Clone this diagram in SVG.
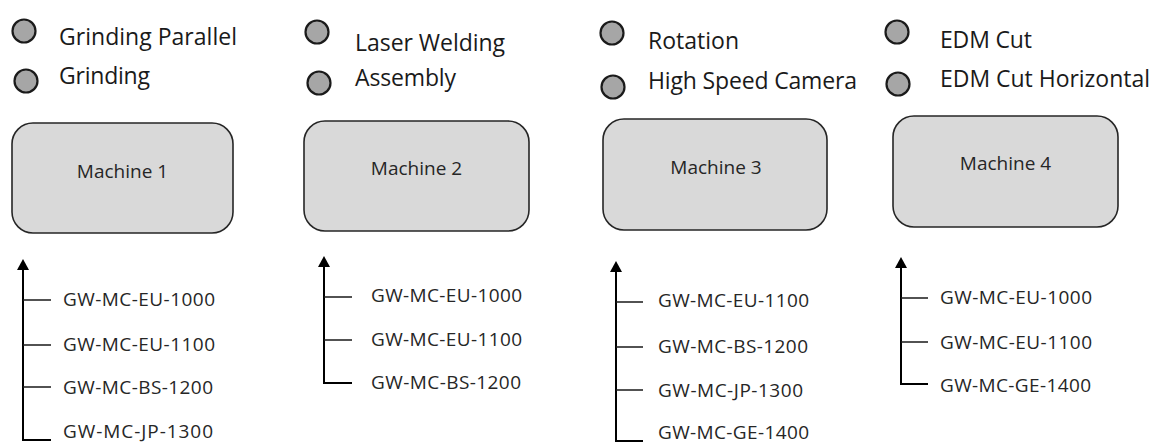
<svg xmlns="http://www.w3.org/2000/svg" width="1166" height="443" viewBox="0 0 1166 443">
  <style>
    .bg { fill: #ffffff; }
    .dot { fill: #a6a6a6; stroke: #1a1a1a; stroke-width: 2.2; }
    .legend { font-family: "Open Sans", "Liberation Sans", sans-serif; font-size: 23px; fill: #1a1a1a; }
    .box { fill: #d9d9d9; stroke: #262626; stroke-width: 1.6; }
    .boxlabel { font-family: "Open Sans", "Liberation Sans", sans-serif; font-size: 19px; fill: #262626; text-anchor: middle; }
    .model { font-family: "Open Sans", "Liberation Sans", sans-serif; font-size: 19px; fill: #262626; }
    .stem { fill: none; stroke: #000000; stroke-width: 2; }
    .branch { fill: none; stroke: #1a1a1a; stroke-width: 1.3; }
  </style>
  <defs>
    <marker id="arrowUp" viewBox="0 0 11 12" refX="0" refY="6" markerWidth="11" markerHeight="12" markerUnits="userSpaceOnUse" orient="auto">
      <path d="M0,0 L11,6 L0,12 z" fill="#000000"/>
    </marker>
  </defs>

  <rect class="bg" x="0" y="0" width="1166" height="443"/>

  <!-- Process legends -->
  <g id="legend-1">
    <circle class="dot" cx="24" cy="31" r="11.5"/>
    <text class="legend" x="59" y="45" textLength="178" lengthAdjust="spacing">Grinding Parallel</text>
    <circle class="dot" cx="26" cy="81" r="11.5"/>
    <text class="legend" x="59" y="84" textLength="91" lengthAdjust="spacing">Grinding</text>
  </g>
  <g id="legend-2">
    <circle class="dot" cx="317" cy="32" r="11.5"/>
    <text class="legend" x="355" y="51" textLength="150" lengthAdjust="spacing">Laser Welding</text>
    <circle class="dot" cx="319" cy="83" r="11.5"/>
    <text class="legend" x="355" y="86" textLength="101" lengthAdjust="spacing">Assembly</text>
  </g>
  <g id="legend-3">
    <circle class="dot" cx="612" cy="33" r="11.5"/>
    <text class="legend" x="648" y="49" textLength="91" lengthAdjust="spacing">Rotation</text>
    <circle class="dot" cx="613" cy="87" r="11.5"/>
    <text class="legend" x="648" y="89" textLength="209" lengthAdjust="spacing">High Speed Camera</text>
  </g>
  <g id="legend-4">
    <circle class="dot" cx="897" cy="32" r="11.5"/>
    <text class="legend" x="940" y="48" textLength="92" lengthAdjust="spacing">EDM Cut</text>
    <circle class="dot" cx="898" cy="84" r="11.5"/>
    <text class="legend" x="940" y="87" textLength="210" lengthAdjust="spacing">EDM Cut Horizontal</text>
  </g>

  <!-- Machines -->
  <g id="machine-1">
    <rect class="box" x="12" y="123" width="221" height="110" rx="21" ry="21"/>
    <text class="boxlabel" x="122.5" y="178">Machine 1</text>
  </g>
  <g id="machine-2">
    <rect class="box" x="304" y="121" width="225" height="110" rx="21" ry="21"/>
    <text class="boxlabel" x="416.5" y="175">Machine 2</text>
  </g>
  <g id="machine-3">
    <rect class="box" x="603" y="119" width="224" height="111" rx="21" ry="21"/>
    <text class="boxlabel" x="716" y="174">Machine 3</text>
  </g>
  <g id="machine-4">
    <rect class="box" x="893" y="116" width="225" height="111" rx="21" ry="21"/>
    <text class="boxlabel" x="1005.5" y="170">Machine 4</text>
  </g>

  <!-- Model lists -->
  <g id="models-1">
    <text class="model" x="63" y="306" textLength="152" lengthAdjust="spacing">GW-MC-EU-1000</text>
    <text class="model" x="63" y="351" textLength="152" lengthAdjust="spacing">GW-MC-EU-1100</text>
    <text class="model" x="63" y="394" textLength="150" lengthAdjust="spacing">GW-MC-BS-1200</text>
    <text class="model" x="63" y="438" textLength="150" lengthAdjust="spacing">GW-MC-JP-1300</text>
  </g>
  <g id="models-2">
    <text class="model" x="371" y="302" textLength="151" lengthAdjust="spacing">GW-MC-EU-1000</text>
    <text class="model" x="371" y="346" textLength="151" lengthAdjust="spacing">GW-MC-EU-1100</text>
    <text class="model" x="371" y="389" textLength="150" lengthAdjust="spacing">GW-MC-BS-1200</text>
  </g>
  <g id="models-3">
    <text class="model" x="658" y="307" textLength="151" lengthAdjust="spacing">GW-MC-EU-1100</text>
    <text class="model" x="658" y="353" textLength="150" lengthAdjust="spacing">GW-MC-BS-1200</text>
    <text class="model" x="658" y="397" textLength="145" lengthAdjust="spacing">GW-MC-JP-1300</text>
    <text class="model" x="658" y="439" textLength="151" lengthAdjust="spacing">GW-MC-GE-1400</text>
  </g>
  <g id="models-4">
    <text class="model" x="940" y="304" textLength="152" lengthAdjust="spacing">GW-MC-EU-1000</text>
    <text class="model" x="940" y="349" textLength="152" lengthAdjust="spacing">GW-MC-EU-1100</text>
    <text class="model" x="940" y="392" textLength="151" lengthAdjust="spacing">GW-MC-GE-1400</text>
  </g>

  <!-- Connectors: upward stems with side branches -->
  <g id="connectors">
    <path class="stem" d="M51,440 H23 V270" marker-end="url(#arrowUp)"/>
    <path class="branch" d="M23,300 H51 M23,345 H51 M23,387 H51"/>

    <path class="stem" d="M352,383 H324 V267" marker-end="url(#arrowUp)"/>
    <path class="branch" d="M324,297 H352 M324,340 H352"/>

    <path class="stem" d="M643,441 H616 V272" marker-end="url(#arrowUp)"/>
    <path class="branch" d="M616,302 H643 M616,347 H643 M616,390 H643"/>

    <path class="stem" d="M928,384 H901 V268" marker-end="url(#arrowUp)"/>
    <path class="branch" d="M901,298 H928 M901,342 H928"/>
  </g>
</svg>
